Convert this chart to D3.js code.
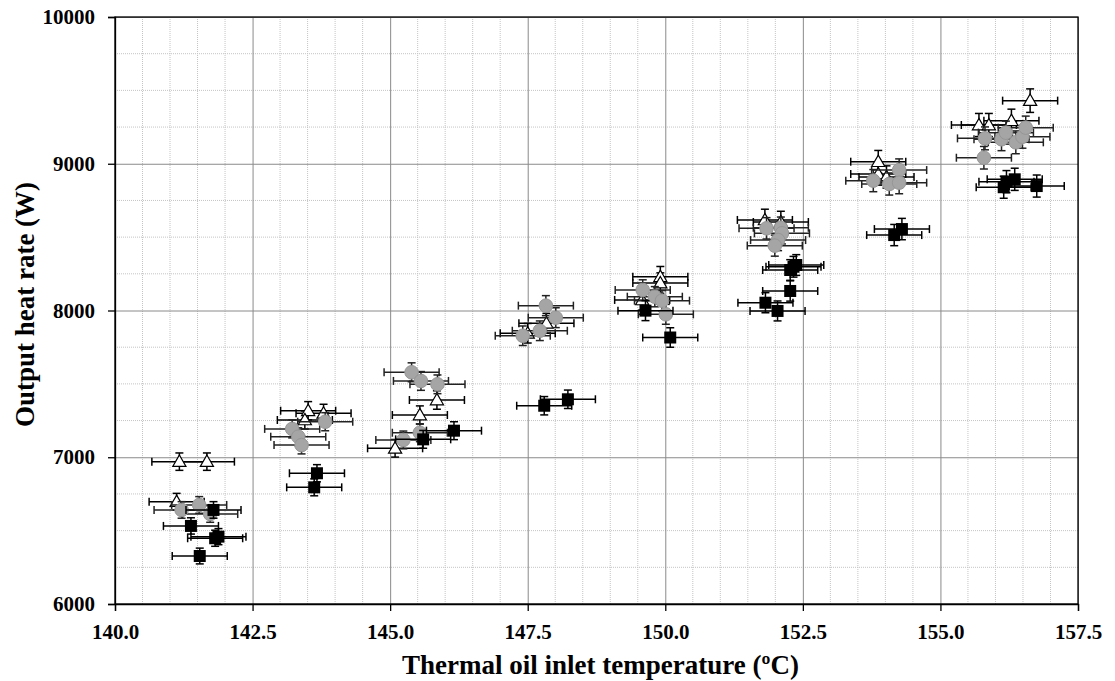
<!DOCTYPE html>
<html>
<head>
<meta charset="utf-8">
<script src="https://cdn.jsdelivr.net/npm/d3@7"></script>
<style>
  body { margin: 0; background: #fff; }
</style>
</head>
<body>
<div id="chart"></div>
<script>
// Open triangles
const triT = [141.17, 141.67, 141.12, 143.51, 143.79, 143.45, 145.85, 145.54, 145.09,
              147.84, 147.50, 149.91, 149.91, 149.58, 151.81, 152.10, 153.87, 153.87, 154.02,
              156.63, 155.70, 155.88, 156.29];
const triQ = [6970, 6970, 6697, 7317, 7299, 7254, 7390, 7288, 7061,
              7913, 7845, 8230, 8187, 8072, 8617, 8603, 9014, 8930, 8910,
              9430, 9264, 9264, 9293];

// Grey circles
const cirT = [141.53, 141.21, 141.73, 143.22, 143.33, 143.39, 143.82,
              145.39, 145.56, 145.86, 145.54, 145.24, 147.83, 148.01, 147.72, 147.41,
              149.59, 149.81, 149.94, 150.01, 151.84, 152.10, 152.12, 152.05, 151.99,
              154.25, 153.78, 154.07, 154.25,
              155.79, 155.81, 156.11, 156.19, 156.37, 156.49, 156.55];
const cirQ = [6675, 6641, 6613, 7193, 7140, 7083, 7242,
              7579, 7520, 7497, 7167, 7118, 8033, 7951, 7862, 7828,
              8140, 8094, 8067, 7974, 8560, 8564, 8526, 8480, 8442,
              8957, 8885, 8862, 8871,
              9041, 9173, 9167, 9212, 9146, 9184, 9246];

// Black squares
const sqT = [141.79, 141.38, 141.82, 141.88, 141.54, 143.67, 143.62, 145.60, 146.16,
             147.80, 148.23, 149.64, 150.09, 152.33, 152.38, 152.27, 152.27, 151.82, 152.04,
             154.30, 154.16, 156.15, 156.35, 156.20, 156.75];
const sqQ = [6641, 6532, 6448, 6459, 6327, 6891, 6795, 7122, 7181,
             7351, 7395, 7999, 7816, 8298, 8310, 8276, 8133, 8053, 7997,
             8555, 8514, 8840, 8894, 8878, 8848];

// Uncertainty: temperature +-0.5 C, heat rate +-0.85 %
const tErr = 0.5;
const qErrRel = 0.0085;

const xTicks = [140, 142.5, 145, 147.5, 150, 152.5, 155, 157.5];
const yTicks = [6000, 7000, 8000, 9000, 10000];

const FONT = '"Liberation Serif", "Times New Roman", serif';

function drawChart() {
    const margin = { top: 17, right: 37, bottom: 77, left: 115 };
    const width = 1115 - margin.left - margin.right;
    const height = 681 - margin.top - margin.bottom;

    const svg = d3.select('#chart')
        .append('svg')
        .attr('width', 1115)
        .attr('height', 681)
        .append('g')
        .attr('transform', `translate(${margin.left},${margin.top})`);

    const x = d3.scaleLinear().domain([140, 157.5]).range([0, width]);
    const y = d3.scaleLinear().domain([6000, 10000]).range([height, 0]);

    // Minor grid (dotted)
    svg.append('g')
        .selectAll('line')
        .data(d3.range(140.5, 157.5, 0.5).filter(v => Math.abs((v - 140) % 2.5) > 0.01))
        .enter().append('line')
        .attr('x1', d => x(d)).attr('x2', d => x(d))
        .attr('y1', 0).attr('y2', height)
        .attr('stroke', '#c4c4c4').attr('stroke-dasharray', '1,1');
    svg.append('g')
        .selectAll('line')
        .data(d3.range(6250, 10000, 250).filter(v => v % 1000 !== 0))
        .enter().append('line')
        .attr('x1', 0).attr('x2', width)
        .attr('y1', d => y(d)).attr('y2', d => y(d))
        .attr('stroke', '#c4c4c4').attr('stroke-dasharray', '1,1');

    // Major grid
    svg.append('g')
        .call(d3.axisBottom(x).tickValues(xTicks).tickSize(height).tickFormat(''))
        .call(g => g.select('.domain').remove())
        .selectAll('line').attr('stroke', '#8a8a8a');
    svg.append('g')
        .call(d3.axisLeft(y).tickValues(yTicks).tickSize(-width).tickFormat(''))
        .call(g => g.select('.domain').remove())
        .selectAll('line').attr('stroke', '#8a8a8a');

    // Plot border
    svg.append('rect')
        .attr('width', width).attr('height', height)
        .attr('fill', 'none').attr('stroke', '#000').attr('stroke-width', 1.3);

    // Axes
    svg.append('g')
        .attr('transform', `translate(0,${height})`)
        .call(d3.axisBottom(x).tickValues(xTicks).tickSize(7).tickPadding(13).tickFormat(d3.format('.1f')))
        .call(g => g.select('.domain').attr('stroke-width', 1.3))
        .call(g => g.selectAll('line').attr('stroke-width', 1.3))
        .selectAll('text')
        .attr('font-family', FONT).attr('font-weight', 'bold').attr('font-size', 21).attr('fill', '#000');
    svg.append('g')
        .call(d3.axisLeft(y).tickValues(yTicks).tickSize(7).tickPadding(13).tickFormat(d3.format('d')))
        .call(g => g.select('.domain').attr('stroke-width', 1.3))
        .call(g => g.selectAll('line').attr('stroke-width', 1.3))
        .selectAll('text')
        .attr('font-family', FONT).attr('font-weight', 'bold').attr('font-size', 21).attr('fill', '#000');

    // Axis titles
    svg.append('text')
        .attr('x', width / 2 + 4)
        .attr('y', height + 70)
        .attr('text-anchor', 'middle')
        .attr('font-family', FONT).attr('font-weight', 'bold').attr('font-size', 27)
        .text('Thermal oil inlet temperature (ºC)');
    svg.append('text')
        .attr('transform', 'rotate(-90)')
        .attr('x', -height / 2 + 6)
        .attr('y', -margin.left + 34)
        .attr('text-anchor', 'middle')
        .attr('font-family', FONT).attr('font-weight', 'bold').attr('font-size', 27)
        .text('Output heat rate (W)');

    // Error bars + markers for one series
    function series(T, Q, color, marker) {
        const pts = T.map((t, i) => ({ t: t, q: Q[i] }));
        const g = svg.append('g');
        const cap = 4;
        const eb = g.selectAll('.eb').data(pts).enter().append('g')
            .attr('stroke', color).attr('stroke-width', 1.5);
        eb.append('line')
            .attr('x1', d => x(d.t - tErr)).attr('x2', d => x(d.t + tErr))
            .attr('y1', d => y(d.q)).attr('y2', d => y(d.q));
        eb.append('line')
            .attr('x1', d => x(d.t - tErr)).attr('x2', d => x(d.t - tErr))
            .attr('y1', d => y(d.q) - cap).attr('y2', d => y(d.q) + cap);
        eb.append('line')
            .attr('x1', d => x(d.t + tErr)).attr('x2', d => x(d.t + tErr))
            .attr('y1', d => y(d.q) - cap).attr('y2', d => y(d.q) + cap);
        eb.append('line')
            .attr('x1', d => x(d.t)).attr('x2', d => x(d.t))
            .attr('y1', d => y(d.q * (1 - qErrRel))).attr('y2', d => y(d.q * (1 + qErrRel)));
        eb.append('line')
            .attr('x1', d => x(d.t) - cap).attr('x2', d => x(d.t) + cap)
            .attr('y1', d => y(d.q * (1 - qErrRel))).attr('y2', d => y(d.q * (1 - qErrRel)));
        eb.append('line')
            .attr('x1', d => x(d.t) - cap).attr('x2', d => x(d.t) + cap)
            .attr('y1', d => y(d.q * (1 + qErrRel))).attr('y2', d => y(d.q * (1 + qErrRel)));
        marker(g.selectAll('.mk').data(pts).enter());
    }

    series(triT, triQ, '#000', sel => sel.append('path')
        .attr('d', d3.symbol(d3.symbolTriangle, 75))
        .attr('transform', d => `translate(${x(d.t)},${y(d.q) + 1})`)
        .attr('fill', '#fff').attr('stroke', '#000').attr('stroke-width', 1.2));

    series(cirT, cirQ, '#222', sel => sel.append('circle')
        .attr('cx', d => x(d.t)).attr('cy', d => y(d.q)).attr('r', 6.8)
        .attr('fill', '#a5a5a5').attr('stroke', '#969696').attr('stroke-width', 1));

    series(sqT, sqQ, '#000', sel => sel.append('rect')
        .attr('x', d => x(d.t) - 6).attr('y', d => y(d.q) - 6)
        .attr('width', 12).attr('height', 12)
        .attr('fill', '#000'));
}

drawChart();
</script>
</body>
</html>
